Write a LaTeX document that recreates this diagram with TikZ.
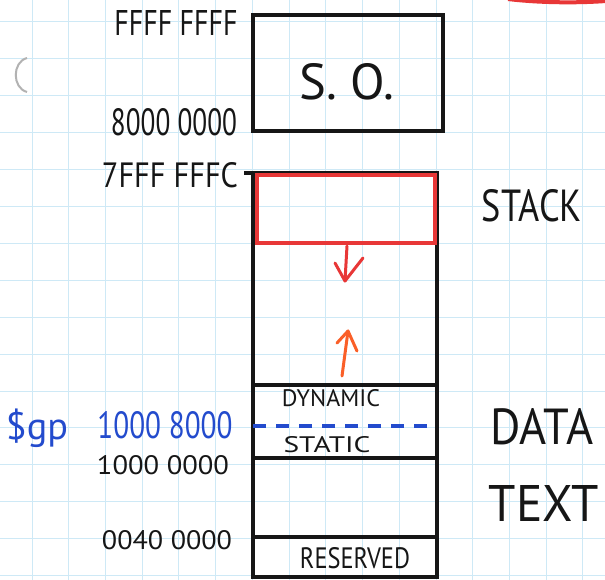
\documentclass[tikz,border=0pt]{standalone}
\usepackage{fontspec}
\setmainfont{PT Sans}
\usepackage{graphicx}
\usetikzlibrary{arrows.meta}
\definecolor{gridc}{RGB}{206,233,246}
\definecolor{ink}{RGB}{22,22,22}
\definecolor{redc}{RGB}{232,55,55}
\definecolor{orangec}{RGB}{250,95,40}
\definecolor{bluec}{RGB}{35,75,205}
\newcommand{\hw}[3]{\resizebox{#1pt}{#2pt}{#3}}
\begin{document}
\begin{tikzpicture}[x=1pt,y=-1pt,
  box/.style={draw=ink, line width=3.2pt, inner sep=0, outer sep=0, anchor=north west},
  stackbox/.style={draw=redc, line width=3.2pt, inner sep=0, outer sep=0, anchor=north west},
  lbl/.style={inner sep=0, outer sep=0, text=ink},
  bluelbl/.style={inner sep=0, outer sep=0, text=bluec},
  rule/.style={draw=ink, line width=3.2pt},
  bluedash/.style={draw=bluec, line width=3.4pt, dash pattern=on 13pt off 10pt},
  downarr/.style={draw=redc, line width=3pt, line cap=round, line join=round},
  uparr/.style={draw=orangec, line width=3pt, line cap=round, line join=round}]
\useasboundingbox (0,0) rectangle (605,580);
\fill[white] (0,0) rectangle (605,580);
% squared paper
\foreach \i in {0,...,15} \draw[gridc, line width=1pt] ({32+36.73*\i},0) -- ({32+36.73*\i},580);
\foreach \i in {0,...,15} \draw[gridc, line width=1pt] (0,{22+36.9*\i}) -- (605,{22+36.9*\i});
% punch hole and stray red mark
\draw[gray!60, line width=2pt] (27,58) .. controls (12,62) and (12,88) .. (27,92);
\draw[redc, line width=4pt] (508,-1) .. controls (540,3) and (580,3) .. (606,1);
% S.O. block
\node[box, minimum width=190pt, minimum height=116pt] (so) at (253,15) {};
\node[lbl] (sotext) at (347,82) {\hw{95}{36}{S. O.}};
% main column
\node[box, minimum width=184pt, minimum height=404pt] (col) at (253,173) {};
\node[stackbox, minimum width=178pt, minimum height=68pt] (stack) at (257,175) {};
\node[box, minimum width=184pt, minimum height=73pt] (data) at (253,385) {};
\node[box, minimum width=184pt, minimum height=40pt] (res) at (253,537) {};
\draw[bluedash] (data.west |- 0,426) -- (data.east |- 0,426);
\node[lbl] (dyn) at (331,398) {\hw{98}{17}{DYNAMIC}};
\node[lbl] (stat) at (327,445) {\hw{87}{16}{STATIC}};
\node[lbl] (restext) at (355,558) {\hw{110}{21}{RESERVED}};
% growth arrows (hand-drawn V heads)
\coordinate (dnA) at (347,246);
\coordinate (dnB) at (345,281);
\coordinate (dnL) at (335,263);
\coordinate (dnR) at (363,258);
\draw[downarr] (dnA) -- (dnB);
\draw[downarr] (dnL) -- (dnB) -- (dnR);
\coordinate (upA) at (342,376);
\coordinate (upB) at (348,331);
\coordinate (upL) at (337,343);
\coordinate (upR) at (357,351);
\draw[uparr] (upA) -- (upB);
\draw[uparr] (upL) -- (upB) -- (upR);
% addresses
\node[lbl] (aFFFF) at (176,23) {\hw{123}{25}{FFFF FFFF}};
\node[lbl] (a8000) at (174,122) {\hw{126}{27}{8000 0000}};
\node[lbl] (a7FFF) at (170,175) {\hw{136}{25}{7FFF FFFC}};
\coordinate (tick) at (244,173);
\draw[rule] (tick) -- (col.north west);
\node[bluelbl] (agp) at (165,425) {\hw{135}{27}{1000 8000}};
\node[bluelbl] (gp) at (37,428) {\resizebox{62pt}{!}{\$gp}};
\node[lbl] (a1000) at (163,465) {\hw{132}{19}{1000 0000}};
\node[lbl] (a0040) at (167,540) {\hw{130}{19}{0040 0000}};
% segment names
\node[lbl] (stk) at (532,206) {\hw{100}{32}{STACK}};
\node[lbl] (dat) at (542,427) {\hw{103}{36}{DATA}};
\node[lbl] (txt) at (544,503) {\hw{110}{36}{TEXT}};
\end{tikzpicture}
\end{document}
